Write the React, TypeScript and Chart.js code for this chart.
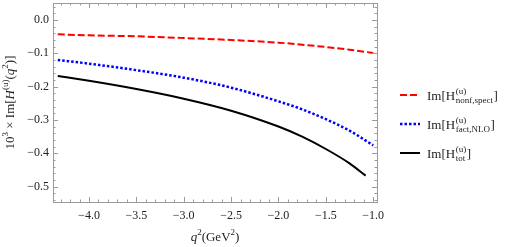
import React, { useEffect, useRef } from "react";
import { Chart, registerables } from "chart.js";

Chart.register(...registerables);

const qGrid = [-4.33, -4.0, -3.5, -3.0, -2.5, -2.0, -1.75, -1.5, -1.25, -1.0];
const qGridTot = [-4.33, -4.0, -3.5, -3.0, -2.5, -2.0, -1.75, -1.5, -1.25, -1.08];
const nonfSpect = [-0.043, -0.046, -0.049, -0.054, -0.06, -0.068, -0.074, -0.081, -0.089, -0.099];
const factNLO = [-0.12, -0.131, -0.1505, -0.173, -0.203, -0.244, -0.268, -0.2975, -0.332, -0.376];
const total = [-0.168, -0.1825, -0.207, -0.236, -0.272, -0.3195, -0.35, -0.387, -0.43, -0.467];

const xMajorTicks = [-4.0, -3.5, -3.0, -2.5, -2.0, -1.5, -1.0];
const yMajorTicks = [0.0, -0.1, -0.2, -0.3, -0.4, -0.5];

const FONT = "'Liberation Serif', 'DejaVu Serif', serif";
const FRAME = "#9a9a9a";
const TEXT = "#222";

type Seg = { t: string; it?: boolean; size?: number; dy?: number; stack?: { sup: string; sub: string } };

function drawRich(ctx: CanvasRenderingContext2D, segs: Seg[], x: number, y: number, base: number, measureOnly = false): number {
  let cx = x;
  for (const s of segs) {
    if (s.stack) {
      const sz = 9;
      ctx.font = `${sz}px ${FONT}`;
      const w1 = ctx.measureText(s.stack.sup).width;
      const w2 = ctx.measureText(s.stack.sub).width;
      if (!measureOnly) {
        ctx.fillText(s.stack.sup, cx + 0.5, y - 6);
        ctx.fillText(s.stack.sub, cx + 0.5, y + 3);
      }
      cx += Math.max(w1, w2) + 1;
      continue;
    }
    const sz = s.size ?? base;
    ctx.font = `${s.it ? "italic " : ""}${sz}px ${FONT}`;
    if (!measureOnly) ctx.fillText(s.t, cx, y + (s.dy ?? 0));
    cx += ctx.measureText(s.t).width;
  }
  return cx - x;
}

const framePlugin = {
  id: "framePlugin",
  afterDraw(chart: any) {
    const { ctx, chartArea: a, scales } = chart;
    const xs = scales.x;
    const ys = scales.y;
    ctx.save();
    ctx.strokeStyle = FRAME;
    ctx.lineWidth = 1;
    ctx.strokeRect(Math.round(a.left) + 0.5, Math.round(a.top) + 0.5, Math.round(a.right - a.left), Math.round(a.bottom - a.top));
    ctx.beginPath();
    for (let i = -44; i <= -9; i++) {
      const v = i / 10;
      if (v < xs.min || v > xs.max) continue;
      const px = Math.round(xs.getPixelForValue(v)) + 0.5;
      const len = i % 5 === 0 ? 5 : 2.5;
      ctx.moveTo(px, a.bottom);
      ctx.lineTo(px, a.bottom - len);
      ctx.moveTo(px, a.top);
      ctx.lineTo(px, a.top + len);
    }
    for (let i = -28; i <= 3; i++) {
      const v = i / 50;
      if (v < ys.min || v > ys.max) continue;
      const py = Math.round(ys.getPixelForValue(v)) + 0.5;
      const len = i % 5 === 0 ? 5 : 2.5;
      ctx.moveTo(a.left, py);
      ctx.lineTo(a.left + len, py);
      ctx.moveTo(a.right, py);
      ctx.lineTo(a.right - len, py);
    }
    ctx.stroke();

    ctx.fillStyle = TEXT;
    ctx.textBaseline = "alphabetic";
    const xt: Seg[] = [
      { t: "q", it: true },
      { t: "2", size: 9, dy: -6 },
      { t: "(GeV" },
      { t: "2", size: 9, dy: -6 },
      { t: ")" },
    ];
    const wX = drawRich(ctx, xt, 0, 0, 13, true);
    drawRich(ctx, xt, (a.left + a.right) / 2 - wX / 2, 241, 13);

    const yt: Seg[] = [
      { t: "10" },
      { t: "3", size: 9, dy: -6 },
      { t: " × Im[" },
      { t: "H", it: true },
      { t: "(u)", size: 9, dy: -6 },
      { t: "(" },
      { t: "q", it: true },
      { t: "2", size: 9, dy: -6 },
      { t: ")]" },
    ];
    const wY = drawRich(ctx, yt, 0, 0, 13, true);
    ctx.save();
    ctx.translate(14, (a.top + a.bottom) / 2);
    ctx.rotate(-Math.PI / 2);
    drawRich(ctx, yt, -wY / 2, 0, 13);
    ctx.restore();

    const items = [
      { sub: "nonf,spect", color: "#ff0000", dash: [7, 3], w: 2, y: 95 },
      { sub: "fact,NLO", color: "#0000ff", dash: [2.5, 2], w: 2.5, y: 124 },
      { sub: "tot", color: "#000000", dash: [], w: 2, y: 153 },
    ];
    for (const it of items) {
      ctx.save();
      ctx.strokeStyle = it.color;
      ctx.lineWidth = it.w;
      ctx.setLineDash(it.dash);
      ctx.beginPath();
      ctx.moveTo(400, it.y);
      ctx.lineTo(420, it.y);
      ctx.stroke();
      ctx.restore();
      ctx.fillStyle = TEXT;
      drawRich(ctx, [{ t: "Im[H" }, { t: "", stack: { sup: "(u)", sub: it.sub } }, { t: "]" }], 427, it.y + 5, 13);
    }
    ctx.restore();
  },
};

const fmt = (v: number) => (v < 0 ? "\u2212" + Math.abs(v).toFixed(1) : v.toFixed(1));

export default function App() {
  const ref = useRef<HTMLCanvasElement | null>(null);
  useEffect(() => {
    if (!ref.current) return;
    const chart = new Chart(ref.current, {
      type: "line",
      data: {
        datasets: [
          {
            label: "nonf,spect",
            data: qGrid.map((q, i) => ({ x: q, y: nonfSpect[i] })),
            borderColor: "#ff0000",
            borderWidth: 2,
            borderDash: [7, 3],
            pointRadius: 0,
            cubicInterpolationMode: "monotone",
          },
          {
            label: "fact,NLO",
            data: qGrid.map((q, i) => ({ x: q, y: factNLO[i] })),
            borderColor: "#0000ff",
            borderWidth: 2.5,
            borderDash: [2.5, 2],
            pointRadius: 0,
            cubicInterpolationMode: "monotone",
          },
          {
            label: "tot",
            data: qGridTot.map((q, i) => ({ x: q, y: total[i] })),
            borderColor: "#000000",
            borderWidth: 2,
            pointRadius: 0,
            cubicInterpolationMode: "monotone",
          },
        ],
      },
      options: {
        animation: false,
        responsive: false,
        layout: { padding: { top: 3, right: 129, left: 0, bottom: 0 } },
        plugins: { legend: { display: false }, tooltip: { enabled: false } },
        scales: {
          x: {
            type: "linear",
            min: -4.38,
            max: -0.96,
            grid: { display: false, drawTicks: false },
            border: { display: false },
            afterBuildTicks: (s: any) => {
              s.ticks = xMajorTicks.map((v) => ({ value: v }));
            },
            afterFit: (s: any) => {
              s.height = 45;
              s.paddingLeft = 0;
              s.paddingRight = 0;
            },
            ticks: {
              padding: 7,
              color: TEXT,
              font: { family: FONT, size: 12 },
              maxRotation: 0,
              autoSkip: false,
              callback: (v: any) => fmt(Number(v)),
            },
          },
          y: {
            type: "linear",
            min: -0.546,
            max: 0.051,
            grid: { display: false, drawTicks: false },
            border: { display: false },
            afterBuildTicks: (s: any) => {
              s.ticks = yMajorTicks.map((v) => ({ value: v }));
            },
            afterFit: (s: any) => {
              s.width = 53;
              s.paddingTop = 0;
              s.paddingBottom = 0;
            },
            ticks: {
              padding: 4,
              color: TEXT,
              font: { family: FONT, size: 12 },
              autoSkip: false,
              callback: (v: any) => fmt(Number(v)),
            },
          },
        },
      },
      plugins: [framePlugin],
    } as any);
    return () => chart.destroy();
  }, []);
  return (
    <div style={{ position: "fixed", left: 0, top: 0, width: 506, height: 247, background: "#fff" }}>
      <canvas ref={ref} width={506} height={247} style={{ width: 506, height: 247 }} />
    </div>
  );
}
